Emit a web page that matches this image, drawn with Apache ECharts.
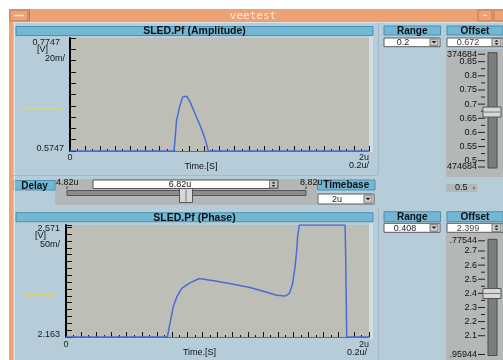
<!DOCTYPE html>
<html><head><meta charset="utf-8">
<script src="https://cdn.jsdelivr.net/npm/echarts@6/dist/echarts.min.js"></script>
<style>html,body{margin:0;padding:0;background:#fff;}#c{width:503px;height:360px;}</style>
</head><body><div id="c"></div>
<script>
// ---- data ----
const ampTime  = [0, 0.696, 0.713, 0.736, 0.754, 0.765, 0.780, 0.803, 0.836, 0.870, 0.903, 0.925, 2.0];
const ampValue = [0.5747, 0.5747, 0.6292, 0.6558, 0.6705, 0.6735, 0.6717, 0.6616, 0.6410, 0.6202, 0.5966, 0.5747, 0.5747];
const phaseTime  = [0, 0.669, 0.686, 0.708, 0.731, 0.764, 0.818, 0.880, 0.995, 1.104, 1.215, 1.325, 1.391, 1.446, 1.474, 1.496, 1.512, 1.523, 1.529, 1.540, 1.842, 1.846, 1.853, 2.0];
const phaseValue = [2.163, 2.163, 2.212, 2.273, 2.309, 2.340, 2.360, 2.376, 2.366, 2.355, 2.343, 2.326, 2.315, 2.312, 2.321, 2.358, 2.419, 2.480, 2.529, 2.571, 2.571, 2.460, 2.163, 2.163];
const timeRange = [0, 2];
const ampRange = [0.5747, 0.7747];
const phaseRange = [2.163, 2.571];
const ampDivs = 10;          // 20m per division
const phaseDivs = 16.32;     // 25m minor ticks over 0.408 range
const xTickLabels = ['0', '2u'];
const ampYLabels = ['0.5747', '0.7747'];
const phaseYLabels = ['2.163', '2.571'];
const ampOffsetTicks = ['0.85', '0.8', '0.75', '0.7', '0.65', '0.6', '0.55', '0.5'];
const phaseOffsetTicks = ['2.7', '2.6', '2.5', '2.4', '2.3', '2.2', '2.1'];
const ampOffsetEnds = ['374684', '474684'];
const phaseOffsetEnds = ['.77544', '.95944'];
const ampOffset = '0.672', ampRangeSel = '0.2';
const phaseOffset = '2.399', phaseRangeSel = '0.408';
const delayMin = '4.82u', delayVal = '6.82u', delayMax = '8.82u', timebase = '2u';

// ---- colours ----
const ORANGE = '#ECA274', ORANGE_D = '#C27C50', BG = '#B6CDD9', HDR = '#72B7D3', HDR_B = '#4E8FAE';
const PLOT = '#BDBEB6', PANEL = '#B4B7B7', TROUGH = '#7C7E7E', THUMB = '#D6D8D8', LINE = '#4B6AD6', YEL = '#D8D66A';
const FF = '"Liberation Sans", Arial, sans-serif';

const G = [];
function R(x, y, w, h, fill, stroke, z) { G.push({type: 'rect', z: z == null ? -10 : z, silent: true, shape: {x, y, width: w, height: h}, style: {fill, stroke: stroke || null, lineWidth: 1}}); }
function L(x1, y1, x2, y2, stroke, lw, z) { G.push({type: 'line', z: z == null ? -8 : z, silent: true, shape: {x1, y1, x2, y2}, style: {stroke, lineWidth: lw || 1}}); }
function T(x, y, text, o) { o = o || {}; G.push({type: 'text', z: o.z == null ? -6 : o.z, silent: true, x, y,
  style: {text, fill: o.color || '#111', font: (o.weight || 'normal') + ' ' + (o.size || 9) + 'px ' + (o.family || FF), align: o.align || 'left', verticalAlign: 'middle'}}); }
function TRI(cx, cy, s, up, z) { const p = up ? [[cx - s, cy + s / 2], [cx + s, cy + s / 2], [cx, cy - s / 2]] : [[cx - s, cy - s / 2], [cx + s, cy - s / 2], [cx, cy + s / 2]];
  G.push({type: 'polygon', z: z == null ? -6 : z, silent: true, shape: {points: p}, style: {fill: '#222'}}); }
function header(x, y, w, h, text, size) { R(x, y, w, h, HDR, HDR_B); T(x + w / 2, y + h / 2 + 0.5, text, {align: 'center', weight: 'bold', size: size || 10}); }
function combo(x, y, w, h, text, tx) { R(x, y, w, h, '#FFFFFF', '#5A5A5A'); T(tx, y + h / 2 + 0.5, text, {align: 'center', color: '#222'});
  R(x + w - 10, y + 1, 8, h - 2, '#C9CBCB', '#777'); TRI(x + w - 6, y + h / 2, 2.5, false); }
function spinField(x, y, w, h, text, tx) { R(x, y, w, h, '#FFFFFF', '#5A5A5A'); T(tx, y + h / 2 + 0.5, text, {align: 'center', color: '#444'});
  R(x + w - 11, y + 0.5, 9, h - 1, '#C9CBCB', '#777'); TRI(x + w - 6.5, y + h / 4 + 0.5, 2, true); TRI(x + w - 6.5, y + 3 * h / 4 - 0.5, 2, false); }
function slider(top, bottom, tTop, tBot, v0, y0, k, labels, ends, step, offset) {
  R(446, top, 57, bottom - top, PANEL);
  R(488, tTop, 9, tBot - tTop, TROUGH, '#4A4A4A');
  const f = v => y0 + (v0 - v) * k;
  labels.forEach(s => { const y = f(parseFloat(s)); T(477, y, s, {align: 'right'}); L(478, y, 485, y, '#222'); });
  for (let i = 0; i < labels.length - 1; i++) { const y = f(parseFloat(labels[i]) - step / 2); L(481, y, 485, y, '#222'); }
  const yt = tTop + 1.5, yb = tBot - 1;
  T(477, yt, ends[0], {align: 'right'}); L(478, yt, 485, yt, '#222');
  T(477, yb, ends[1], {align: 'right'}); L(478, yb, 485, yb, '#222');
  const yc = f(parseFloat(offset));
  R(483, yc - 5, 18, 10, THUMB, '#555', -4); L(484, yc, 500, yc, '#777', 1, -3);
}

// window frame
R(9, 9, 494, 351, ORANGE);
R(10, 10, 18, 11, ORANGE, ORANGE_D); L(14, 15.5, 24, 15.5, '#FBE3D3', 1.5);
L(29.5, 9, 29.5, 22, ORANGE_D);
R(478, 10, 14, 11, ORANGE, ORANGE_D); L(483, 15.5, 487, 15.5, '#FBE3D3', 1.2);
R(494, 10, 12, 11, ORANGE, ORANGE_D);
T(253, 16, 'veetest', {align: 'center', size: 11, family: '"DejaVu Sans Mono", monospace', color: '#FBE6D8'});
R(13, 22, 490, 338, BG);
L(13, 22.5, 503, 22.5, '#D5E3EB');
L(14.5, 23, 14.5, 360, '#D5E3EB');
L(13, 175.5, 378, 175.5, '#A3B9C5');
L(378.5, 23, 378.5, 175, '#A3B9C5');
L(378.5, 208, 378.5, 360, '#A3B9C5');

// amplitude panel
header(16, 26.5, 357, 9, 'SLED.Pf (Amplitude)', 10.5);
R(369, 36, 4, 116, '#CFDDE4');
L(24, 108, 61, 108, YEL, 1.5);
T(37, 50, '[V]');
T(65, 59, '20m/', {align: 'right'});
T(201, 166.5, 'Time.[S]', {align: 'center'});
T(369, 166, '0.2u/', {align: 'right'});

// delay strip
R(55, 179, 262, 26, PANEL);
header(14, 180.5, 41, 9.5, 'Delay', 10);
T(56, 183, delayMin); L(67, 186.5, 67, 189, '#333');
R(93, 180, 185, 8.5, '#FFFFFF', '#555');
T(180, 184.5, delayVal, {align: 'center'});
R(269.5, 180.5, 8, 7.5, '#C9CBCB', '#777'); TRI(273.5, 182.4, 2, true); TRI(273.5, 186.1, 2, false);
T(300, 183, delayMax); L(306, 186.5, 306, 189, '#333');
R(67, 190.5, 239, 5, '#8A8C8C', '#555');
R(179.5, 188.5, 13, 14, THUMB, '#555', -4); L(186, 189.5, 186, 201.5, '#777', 1, -3);
header(317.5, 180, 57.5, 10, 'Timebase', 10);
combo(318, 194, 56, 10, timebase, 337);
R(446, 184, 31, 8, PANEL); T(455, 188, '0.5'); L(473, 188, 475, 188, '#333');

// right panel 1
header(384, 26, 56.5, 9, 'Range', 10);
combo(384, 38, 56, 8.7, ampRangeSel, 403);
header(447, 26, 56, 9, 'Offset', 10);
spinField(447, 38, 56, 8.7, ampOffset, 468);
slider(49, 177, 52.7, 168, 0.5, 160.7, 282.9, ampOffsetTicks, ampOffsetEnds, 0.05, ampOffset);

// phase panel
header(16, 212.7, 357, 9, 'SLED.Pf (Phase)', 10.5);
R(369, 223, 4, 116, '#CFDDE4');
L(24, 294.3, 56, 294.3, YEL, 1.5);
T(35, 236, '[V]');
T(60, 245, '50m/', {align: 'right'});
T(199.5, 352.7, 'Time.[S]', {align: 'center'});
T(367, 352.7, '0.2u/', {align: 'right'});
header(384, 211.7, 56.5, 10, 'Range', 10);
combo(384, 223.3, 56, 9, phaseRangeSel, 405);
header(447, 211.7, 56, 10, 'Offset', 10);
spinField(447, 223.3, 56, 9, phaseOffset, 468);
slider(233, 360, 239.3, 355.5, 2.7, 251, 141.2, phaseOffsetTicks, phaseOffsetEnds, 0.1, phaseOffset);

// ---- chart ----
const lbl = {fontSize: 9, color: '#1a1a1a', fontFamily: FF};
function xAxis(grid) {
  return {gridIndex: grid, type: 'value', min: timeRange[0], max: timeRange[1], interval: 0.1,
    axisLine: {show: true, onZero: false, lineStyle: {color: '#6a6a6a', width: 1}},
    axisTick: {show: true, inside: true, length: 5, lineStyle: {color: '#111'}},
    minorTick: {show: true, splitNumber: 2, length: 2, lineStyle: {color: '#111'}},
    splitLine: {show: false}, minorSplitLine: {show: false},
    axisLabel: Object.assign({}, lbl, {margin: grid === 0 ? 2 : 3, showMinLabel: true, showMaxLabel: true, alignMaxLabel: 'right',
      formatter: v => Math.abs(v - timeRange[0]) < 1e-9 ? xTickLabels[0] : (Math.abs(v - timeRange[1]) < 1e-9 ? xTickLabels[1] : '')})};
}
function tickAxis(grid, divs, labels, rich) {
  return {gridIndex: grid, type: 'value', min: 0, max: divs, interval: 1, position: 'left',
    axisLine: {show: true, lineStyle: {color: '#000', width: 2}},
    axisTick: {show: true, inside: true, length: 6, lineStyle: {color: '#111'}},
    splitLine: {show: false},
    axisLabel: Object.assign({}, lbl, {margin: 6, showMinLabel: true, showMaxLabel: true,
      formatter: v => v < 1e-9 ? '{b|' + labels[0] + '}' : (v > divs - 1e-6 ? '{t|' + labels[1] + '}' : ''),
      rich: rich})};
}
const chart = echarts.init(document.getElementById('c'), null, {renderer: 'canvas'});
chart.setOption({
  animation: false,
  backgroundColor: '#ffffff',
  graphic: {elements: G},
  grid: [
    {left: 70, top: 38, width: 299, height: 113, show: true, backgroundColor: PLOT, borderWidth: 0},
    {left: 66, top: 225, width: 303, height: 112, show: true, backgroundColor: PLOT, borderWidth: 0}
  ],
  xAxis: [xAxis(0), xAxis(1)],
  yAxis: [
    {gridIndex: 0, type: 'value', min: ampRange[0], max: ampRange[1], show: false},
    tickAxis(0, ampDivs, ampYLabels, {t: Object.assign({}, lbl, {padding: [9.4, 4, 0, 0]}), b: Object.assign({}, lbl, {padding: [0, 0, 5.4, 0]})}),
    {gridIndex: 1, type: 'value', min: phaseRange[0], max: phaseRange[1], show: false},
    tickAxis(1, phaseDivs, phaseYLabels, {t: Object.assign({}, lbl, {padding: [6.6, 0, 0, 0]}), b: Object.assign({}, lbl, {padding: [0, 0, 4, 0]})})
  ],
  series: [
    {type: 'line', xAxisIndex: 0, yAxisIndex: 0, data: ampTime.map((t, i) => [t, ampValue[i]]), symbol: 'none', clip: true, z: 5,
      lineStyle: {color: LINE, width: 1.5}},
    {type: 'line', xAxisIndex: 1, yAxisIndex: 2, data: phaseTime.map((t, i) => [t, phaseValue[i]]), symbol: 'none', clip: true, z: 5,
      lineStyle: {color: LINE, width: 1.5}}
  ]
});
</script></body></html>
